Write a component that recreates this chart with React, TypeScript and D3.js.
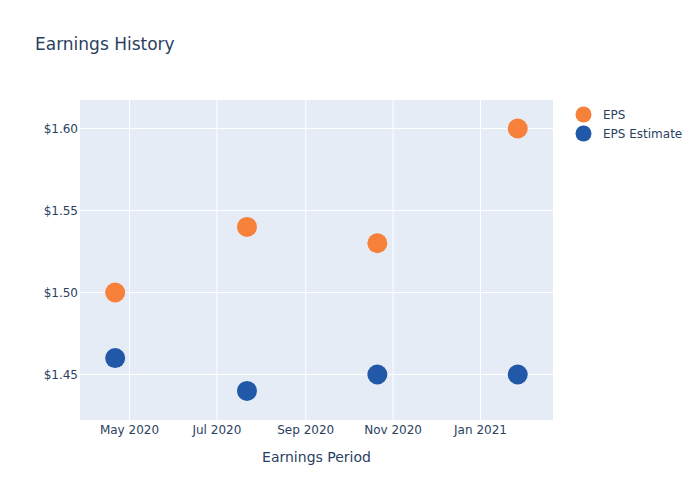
import React from "react";
import * as d3 from "d3";

const dates = ["2020-04-21", "2020-07-22", "2020-10-21", "2021-01-27"];
const eps = [1.5, 1.54, 1.53, 1.6];
const epsEstimate = [1.46, 1.44, 1.45, 1.45];
const yTicks = [1.45, 1.5, 1.55, 1.6];
const xTicks = ["2020-05-01", "2020-07-01", "2020-09-01", "2020-11-01", "2021-01-01"];
const seriesNames = ["EPS", "EPS Estimate"];
const seriesColors = ["#F7813A", "#2258A8"];

const W = 700, H = 500;
const L = 80, R = 553, T = 100, B = 420;
const FONT = "'DejaVu Sans', sans-serif";
const TXT = "#2a3f5f";

export default function App() {
  const parse = (s: string) => new Date(s + "T00:00:00Z");
  const x = d3.scaleUtc()
    .domain([parse("2020-05-01"), parse("2021-01-01")])
    .range([129.5, 480.5]);
  const y = d3.scaleLinear().domain([1.45, 1.6]).range([374.5, 128.5]);
  const fmtX = d3.utcFormat("%b %Y");
  const series = [eps, epsEstimate];

  return (
    <svg width={W} height={H} style={{ display: "block", position: "absolute", left: 0, top: 0 }} fontFamily={FONT}>
      <rect width={W} height={H} fill="#fff" />
      <text x={35} y={50} fontSize={17} fill={TXT}>Earnings History</text>
      <rect x={L} y={T} width={R - L} height={B - T} fill="#E5ECF6" />
      {xTicks.map((t) => (
        <line key={t} x1={x(parse(t))} x2={x(parse(t))} y1={T} y2={B} stroke="#fff" strokeWidth={1} />
      ))}
      {yTicks.map((t) => (
        <line key={t} x1={L} x2={R} y1={y(t)} y2={y(t)} stroke="#fff" strokeWidth={1} />
      ))}
      {yTicks.map((t) => (
        <text key={t} x={L - 2} y={y(t)} dy="0.35em" textAnchor="end" fontSize={12} fill={TXT}>
          {"$" + d3.format(".2f")(t)}
        </text>
      ))}
      {xTicks.map((t) => (
        <text key={t} x={x(parse(t))} y={434} textAnchor="middle" fontSize={12} fill={TXT}>
          {fmtX(parse(t))}
        </text>
      ))}
      <text x={(L + R) / 2} y={462} textAnchor="middle" fontSize={14} fill={TXT}>Earnings Period</text>
      {series.map((vals, si) =>
        vals.map((v, i) => (
          <circle key={si + "-" + i} cx={x(parse(dates[i]))} cy={y(v)} r={10} fill={seriesColors[si]} />
        ))
      )}
      {seriesNames.map((n, i) => (
        <g key={n} transform={`translate(0,${114.5 + i * 19})`}>
          <circle cx={583.5} cy={0} r={8} fill={seriesColors[i]} />
          <text x={603} y={0} dy="0.35em" fontSize={12} fill={TXT}>{n}</text>
        </g>
      ))}
    </svg>
  );
}
